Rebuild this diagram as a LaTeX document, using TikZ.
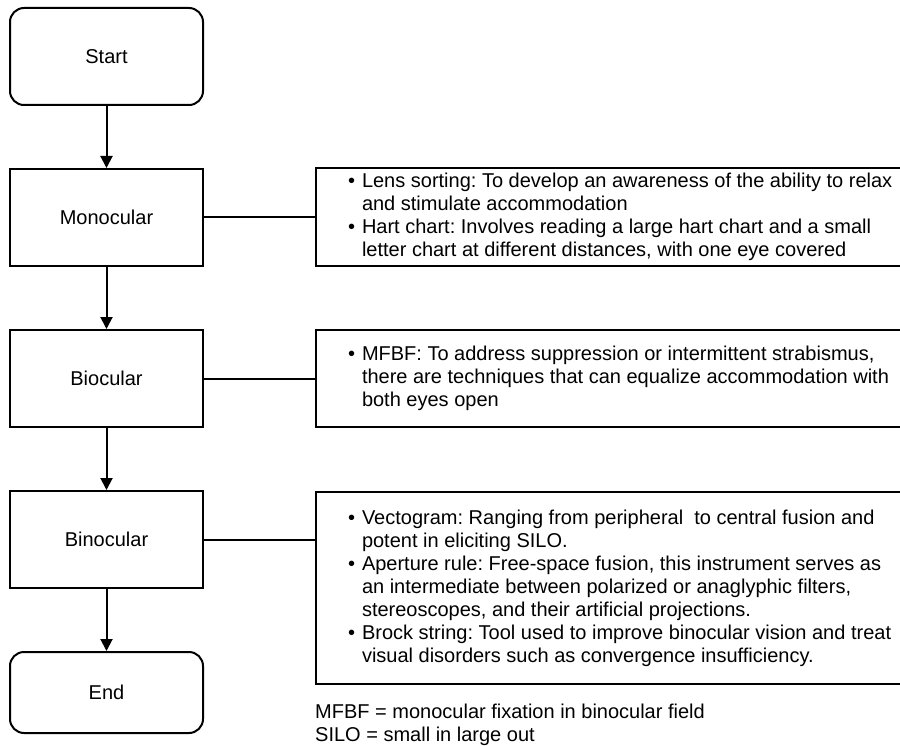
\documentclass[tikz,border=0pt]{standalone}
\usepackage{fontspec}
\setmainfont{Liberation Sans}
\usepackage{enumitem}
\usetikzlibrary{arrows.meta}

\newlist{notelist}{itemize}{1}
\setlist[notelist]{label=\textbullet, leftmargin=46pt, labelsep=7pt,
  itemsep=0pt, topsep=0pt, parsep=0pt, partopsep=0pt}

\tikzset{
  stage/.style={draw, line width=2pt, minimum width=193pt, minimum height=97pt,
    inner sep=0pt, align=center},
  terminal/.style={stage, rounded corners=14pt},
  notebox/.style={draw, line width=2pt, anchor=west, minimum width=600pt,
    inner xsep=0pt, inner ysep=0pt},
  flow/.style={line width=2pt, -{Triangle[length=12pt, width=12pt]}},
  link/.style={line width=2pt}
}

\newcommand{\notes}[1]{\begin{minipage}{600pt}\raggedright
  \begin{notelist}#1\end{notelist}\end{minipage}}

\begin{document}
\frenchspacing
\begin{tikzpicture}[x=1pt, y=-1pt, font=\fontsize{20}{23}\selectfont]
% Set the page size
\useasboundingbox (0, 0) rectangle (900, 746);
\def\colx{106.5} % Centre of the left column

% Draw the stages of the therapy
\node[terminal] (start) at (\colx, 56.5) {Start};
\node[stage] (mono) at (\colx, 217.5) {Monocular};
\node[stage] (bio) at (\colx, 378.5) {Biocular};
\node[stage] (bino) at (\colx, 539.5) {Binocular};
\node[terminal, minimum height=81pt] (end) at (\colx, 692.5) {End};

% Draw the boxes with the techniques
\node[notebox, minimum height=98pt] (monoNotes) at (315, 217) {\notes{
  \item Lens sorting: To develop an awareness of the ability to relax\newline
  and stimulate accommodation
  \item Hart chart: Involves reading a large hart chart and a small\newline
  letter chart at different distances, with one eye covered}};
\node[notebox, minimum height=97pt] (bioNotes) at (315, 378.5) {\notes{
  \item MFBF: To address suppression or intermittent strabismus,\newline
  there are techniques that can equalize accommodation with\newline
  both eyes open}};
\node[notebox, minimum height=192pt] (binoNotes) at (315, 588) {\notes{
  \item Vectogram: Ranging from peripheral\ \ to central fusion and\newline
  potent in eliciting SILO.
  \item Aperture rule: Free-space fusion, this instrument serves as\newline
  an intermediate between polarized or anaglyphic filters,\newline
  stereoscopes, and their artificial projections.
  \item Brock string: Tool used to improve binocular vision and treat\newline
  visual disorders such as convergence insufficiency.}};

% Abbreviations
\node[anchor=west, align=left, inner sep=0pt] (legend) at (315, 725)
  {MFBF = monocular fixation in binocular field\\SILO = small in large out};

% Connect the stages
\draw[flow] (start) -- (mono);
\draw[flow] (mono) -- (bio);
\draw[flow] (bio) -- (bino);
\draw[flow] (bino) -- (end);
\draw[link] (mono.east) -- (mono.east -| monoNotes.west);
\draw[link] (bio.east) -- (bio.east -| bioNotes.west);
\draw[link] (bino.east) -- (bino.east -| binoNotes.west);
\end{tikzpicture}
\end{document}
